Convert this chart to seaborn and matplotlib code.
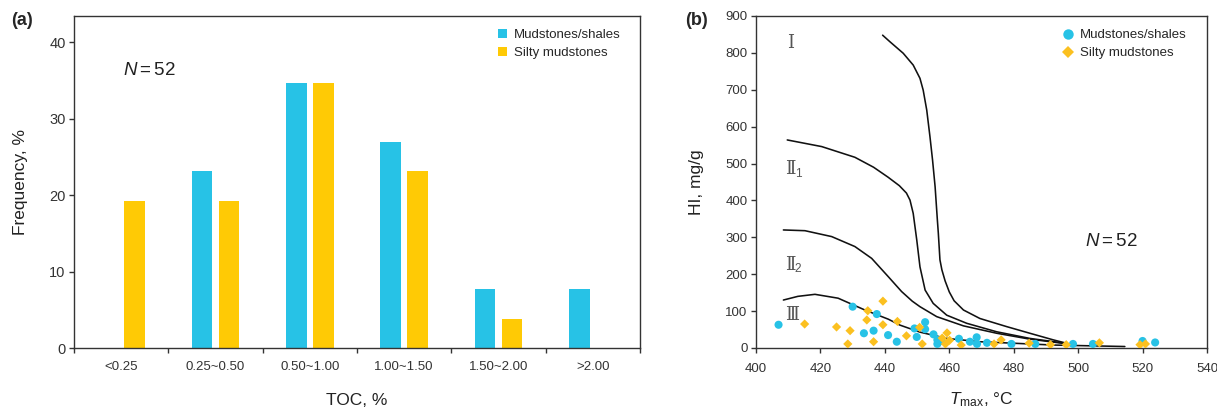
import numpy as np
import pandas as pd
import matplotlib
matplotlib.use("Agg")
import matplotlib.pyplot as plt
from matplotlib.lines import Line2D
from matplotlib.ticker import FixedLocator
import seaborn as sns

# ---------------- data ----------------
toc_classes = ["<0.25", "0.25~0.50", "0.50~1.00", "1.00~1.50", "1.50~2.00", ">2.00"]
freq_mud = [0.0, 23.1, 34.6, 26.9, 7.7, 7.7]
freq_silty = [19.2, 19.2, 34.6, 23.1, 3.8, 0.0]
group_names = ["Mudstones/shales", "Silty mudstones"]

mud_tmax = [407.0, 430.0, 437.5, 433.5, 436.5, 441.0, 443.7, 449.2, 449.9, 452.5, 452.5, 455.1, 456.3,
            456.3, 457.6, 463.0, 466.4, 468.5, 468.6, 471.7, 479.3, 486.7, 498.4, 504.6, 520.0, 523.9]
mud_hi = [63, 112, 92, 40, 47, 35, 17, 53, 30, 70, 51, 37, 22,
          11, 19, 25, 17, 29, 11, 14, 11, 11, 11, 11, 19, 15]
silty_tmax = [415.1, 425.0, 428.5, 429.2, 434.7, 434.4, 436.5, 439.4, 439.4, 443.9, 446.7, 450.8, 451.6,
              457.8, 458.8, 459.3, 460.1, 463.7, 473.9, 476.1, 484.8, 491.4, 496.3, 506.6, 519.2, 520.9]
silty_hi = [65, 57, 11, 47, 101, 76, 17, 127, 63, 72, 33, 56, 11,
            27, 11, 41, 21, 8, 11, 22, 13, 9, 9, 14, 9, 11]

curve_I_t = [439.3, 441.6, 445.7, 448.8, 450.9, 451.9, 453.0, 454.0, 454.8, 455.6, 456.3, 456.6,
             457.1, 457.7, 458.7, 460.0, 461.5, 464.4, 469.5, 477.8, 485.0, 492.3, 495.9]
curve_I_hi = [848, 830, 799, 767, 731, 699, 645, 573, 510, 437, 347, 311,
              239, 212, 182, 152, 128, 103, 80, 58, 40, 22, 14]
curve_II1_t = [409.7, 420.4, 430.7, 436.5, 441.0, 444.5, 446.7, 447.8, 448.8, 449.9, 450.9, 452.5,
               455.0, 459.2, 465.4, 474.7, 485.0, 495.9]
curve_II1_hi = [564, 546, 517, 490, 463, 440, 420, 401, 365, 293, 220, 157,
                121, 89, 67, 44, 26, 13]
curve_II2_t = [408.5, 415.2, 423.5, 430.7, 435.9, 441.1, 445.2, 448.5, 450.9, 456.1, 464.4, 474.7, 485.0, 495.9]
curve_II2_hi = [320, 318, 302, 275, 243, 193, 153, 127, 112, 85, 60, 40, 24, 12]
curve_III_t = [408.5, 413.0, 418.3, 425.5, 433.8, 441.1, 444.7, 450.9, 459.2, 469.5, 479.8, 492.3, 514.5]
curve_III_hi = [130, 140, 145.5, 135, 103, 78, 62, 43, 26, 17, 13, 8, 4]

BLUE = "#27C2E6"
YELLOW = "#FFCA05"
YELLOW_PT = "#FBC020"
AX_COL = "#333333"

# ---------------- style ----------------
sns.set_style("ticks")
plt.rcParams["font.family"] = ["Liberation Sans", "DejaVu Sans"]
plt.rcParams["mathtext.fontset"] = "custom"
plt.rcParams["mathtext.rm"] = "Liberation Sans"
plt.rcParams["mathtext.it"] = "Liberation Sans:italic"
plt.rcParams["mathtext.bf"] = "Liberation Sans:bold"

fig = plt.figure(figsize=(12.17, 4.09), dpi=100)
W, H = 1217, 409
bot = 1 - 348 / H
top = 1 - 16 / H
ax1 = fig.add_axes([74 / W, bot, (640 - 74) / W, top - bot])
ax2 = fig.add_axes([756 / W, bot, (1207 - 756) / W, top - bot])

# ---------------- panel (a) ----------------
bar_df = pd.DataFrame({
    "TOC": toc_classes * 2,
    "Frequency": freq_mud + freq_silty,
    "Type": [group_names[0]] * len(toc_classes) + [group_names[1]] * len(toc_classes),
})
sns.barplot(data=bar_df, x="TOC", y="Frequency", hue="Type", order=toc_classes,
            hue_order=group_names, palette=[BLUE, YELLOW], saturation=1,
            width=0.57, gap=0.23, linewidth=0, ax=ax1)
ax1.set_xlim(-0.5, len(toc_classes) - 0.5)
ax1.set_ylim(0, 43.4)
ax1.set_yticks([0, 10, 20, 30, 40])
ax1.xaxis.set_minor_locator(FixedLocator(np.arange(-0.5, len(toc_classes), 1.0)))
ax1.tick_params(axis="x", which="major", length=0, pad=9)
ax1.tick_params(axis="x", which="minor", length=3.8, width=1.0, color=AX_COL, direction="out")
ax1.set_xlabel("TOC, %", fontsize=12.5, color="#222222")
ax1.set_ylabel("Frequency, %", fontsize=12.5, color="#222222")
ax1.xaxis.set_label_coords(0.5, -0.135)
ax1.yaxis.set_label_coords(-0.082, 0.5)
h, l = ax1.get_legend_handles_labels()
ax1.legend(h, l, loc="upper left", bbox_to_anchor=((498 - 74) / 566, (348 - 29) / 332),
           frameon=False, fontsize=9.5, handlelength=0.65, handleheight=0.65,
           handletextpad=0.55, labelspacing=0.45, borderpad=0, borderaxespad=0)
ax1.text(0.087, 0.835, "$N=52$", transform=ax1.transAxes, fontsize=13.5,
         ha="left", va="center", color="#222222")

# ---------------- panel (b) ----------------
curve_df = pd.DataFrame({
    "Tmax": curve_I_t + curve_II1_t + curve_II2_t + curve_III_t,
    "HI": curve_I_hi + curve_II1_hi + curve_II2_hi + curve_III_hi,
    "curve": (["I"] * len(curve_I_t) + ["II1"] * len(curve_II1_t)
              + ["II2"] * len(curve_II2_t) + ["III"] * len(curve_III_t)),
})
sns.lineplot(data=curve_df, x="Tmax", y="HI", units="curve", estimator=None, sort=False,
             color="#111111", linewidth=1.15, ax=ax2, legend=False)

pts_df = pd.DataFrame({
    "Tmax": mud_tmax + silty_tmax,
    "HI": mud_hi + silty_hi,
    "Type": [group_names[0]] * len(mud_tmax) + [group_names[1]] * len(silty_tmax),
})
sns.scatterplot(data=pts_df, x="Tmax", y="HI", hue="Type", style="Type", size="Type",
                hue_order=group_names, palette=[BLUE, YELLOW_PT],
                markers={group_names[0]: "o", group_names[1]: "D"},
                sizes={group_names[0]: 34, group_names[1]: 22},
                linewidth=0, ax=ax2, legend=False, zorder=3)
ax2.set_xlim(400, 540)
ax2.set_ylim(0, 900)
ax2.set_xticks(np.arange(400, 541, 20))
ax2.set_yticks(np.arange(0, 901, 100))
ax2.tick_params(axis="x", pad=7)
ax2.set_xlabel(r"$T_{\rm max}$, °C", fontsize=12.5, color="#222222")
ax2.set_ylabel("HI, mg/g", fontsize=12.5, color="#222222")
ax2.xaxis.set_label_coords(0.5, -0.128)
ax2.yaxis.set_label_coords(-0.115, 0.5)
leg_handles = [
    Line2D([], [], linestyle="none", marker="o", markersize=7.5, color=BLUE, markeredgewidth=0),
    Line2D([], [], linestyle="none", marker="D", markersize=6.0, color=YELLOW_PT, markeredgewidth=0),
]
ax2.legend(leg_handles, group_names, loc="upper left",
           bbox_to_anchor=((1062 - 756) / 451, (348 - 29) / 332),
           frameon=False, fontsize=9.5, handlelength=0.9, handletextpad=0.45,
           labelspacing=0.45, borderpad=0, borderaxespad=0)
ax2.text(502, 290, "$N=52$", fontsize=13.5, ha="left", va="center", color="#222222")

roman_font = ["DejaVu Serif", "Noto Sans CJK SC", "DejaVu Sans"]
RCOL = "#555555"
ax2.text(409.5, 826, "Ⅰ", family=roman_font, fontsize=13, color=RCOL, ha="left", va="center")
ax2.text(409.0, 485, "Ⅱ", family=roman_font, fontsize=13, color=RCOL, ha="left", va="center")
ax2.annotate("1", xy=(409.0, 485), xytext=(6.9, -3.5), textcoords="offset points",
             fontsize=8.5, color=RCOL, ha="left", va="center")
ax2.text(409.0, 226, "Ⅱ", family=roman_font, fontsize=13, color=RCOL, ha="left", va="center")
ax2.annotate("2", xy=(409.0, 226), xytext=(6.9, -3.5), textcoords="offset points",
             fontsize=8.5, color=RCOL, ha="left", va="center")
ax2.text(409.0, 90, "Ⅲ", family=roman_font, fontsize=13, color=RCOL, ha="left", va="center")

for ax in (ax1, ax2):
    for sp in ax.spines.values():
        sp.set_visible(True)
        sp.set_color(AX_COL)
        sp.set_linewidth(1.0)
    ax.tick_params(axis="both", which="major", labelsize=9.5, labelcolor="#333333",
                   color=AX_COL, width=1.0)
    ax.tick_params(axis="y", length=3.5, pad=2.5)
ax1.tick_params(axis="y", labelsize=10.5)
ax2.tick_params(axis="x", length=3.8)

fig.text(11 / W, 1 - 12 / H, "(a)", fontsize=13, fontweight="bold", ha="left", va="top")
fig.text(685 / W, 1 - 12 / H, "(b)", fontsize=13, fontweight="bold", ha="left", va="top")

fig.savefig("out.png", dpi=100)
